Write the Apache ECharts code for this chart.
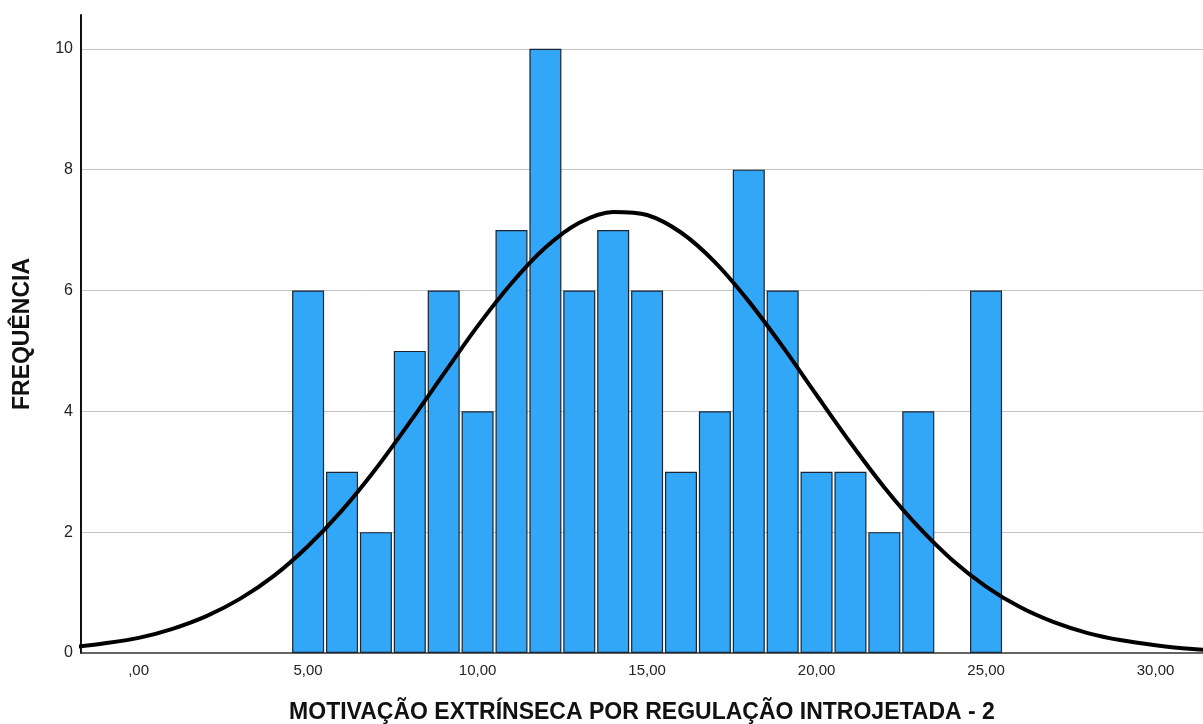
<!DOCTYPE html>
<html>
<head>
<meta charset="utf-8">
<script src="https://cdn.jsdelivr.net/npm/echarts@6/dist/echarts.min.js"></script>
<style>
  html, body { margin: 0; padding: 0; background: #ffffff; }
  #chart { width: 1203px; height: 724px; }
</style>
</head>
<body>
<div id="chart"></div>
<script>
// Histogram bins (bin centre, frequency)
const binCenters = [5, 6, 7, 8, 9, 10, 11, 12, 13, 14, 15, 16, 17, 18, 19, 20, 21, 22, 23, 25];
const frequencies = [6, 3, 2, 5, 6, 4, 7, 10, 6, 7, 6, 3, 4, 8, 6, 3, 3, 2, 4, 6];

// Fitted normal curve, sampled at whole units
const curveX = [-2, -1, 0, 1, 2, 3, 4, 5, 6, 7, 8, 9, 10, 11, 12, 13, 14, 15, 16,
                17, 18, 19, 20, 21, 22, 23, 24, 25, 26, 27, 28, 29, 30, 31, 32];
const curveY = [0.09, 0.16, 0.25, 0.40, 0.61, 0.90, 1.28, 1.77, 2.36, 3.05, 3.82, 4.62, 5.41, 6.12, 6.71, 7.12, 7.30, 7.25, 6.96,
                6.47, 5.82, 5.07, 4.27, 3.48, 2.74, 2.09, 1.54, 1.10, 0.76, 0.51, 0.33, 0.21, 0.13, 0.07, 0.04];

// Axis ticks
const xTicks = [0, 5, 10, 15, 20, 25, 30];
const yTicks = [0, 2, 4, 6, 8, 10];

const xTitle = 'MOTIVAÇÃO EXTRÍNSECA POR REGULAÇÃO INTROJETADA - 2';
const yTitle = 'FREQUÊNCIA';

const fontFamily = '"Liberation Sans", Arial, sans-serif';

// x ticks step finely from the axis minimum; only the whole-5 positions get a label
function xLabel(v) {
  const r = Math.round(v * 10) / 10;
  if (!xTicks.includes(r)) return '';
  return r === 0 ? ',00' : r + ',00';
}

const chart = echarts.init(document.getElementById('chart'), null, { renderer: 'canvas' });

chart.setOption({
  animation: false,
  backgroundColor: '#ffffff',
  grid: { left: 81, right: 0, top: 15, bottom: 71, containLabel: false, outerBoundsMode: 'none' },
  xAxis: {
    type: 'value',
    min: -1.7,
    max: 31.4,
    interval: 0.1,
    name: xTitle,
    nameLocation: 'middle',
    nameGap: 48,
    nameTextStyle: { fontFamily, fontSize: 23, fontWeight: 'bold', color: '#111' },
    axisLine: { show: true, onZero: false, lineStyle: { color: '#333', width: 1.5 } },
    axisTick: { show: false },
    splitLine: { show: false },
    axisLabel: {
      showMinLabel: false,
      showMaxLabel: false,
      interval: 0,
      hideOverlap: false,
      margin: 10,
      fontFamily, fontSize: 15, color: '#222',
      formatter: xLabel
    }
  },
  yAxis: {
    type: 'value',
    min: 0,
    max: 10.56,
    interval: 2,
    name: yTitle,
    nameLocation: 'middle',
    nameGap: 47,
    nameTextStyle: { fontFamily, fontSize: 23, fontWeight: 'bold', color: '#111' },
    axisLine: { show: true, onZero: false, lineStyle: { color: '#111', width: 2 } },
    axisTick: { show: false },
    splitLine: { show: true, showMinLine: false, showMaxLine: false, lineStyle: { color: '#c4c4c4', width: 1 } },
    axisLabel: {
      showMaxLabel: false,
      margin: 8,
      fontFamily, fontSize: 16, color: '#222',
      formatter: v => yTicks.includes(v) ? String(v) : ''
    }
  },
  series: [
    {
      type: 'bar',
      data: binCenters.map((c, i) => [c, frequencies[i]]),
      barWidth: 32,
      itemStyle: { color: '#33a7f7', borderColor: '#1a2433', borderWidth: 1.2 },
      z: 2
    },
    {
      type: 'line',
      data: curveX.map((x, i) => [x, curveY[i]]),
      smooth: 0.3,
      showSymbol: false,
      clip: true,
      lineStyle: { color: '#000', width: 4 },
      z: 3
    }
  ]
});
</script>
</body>
</html>
